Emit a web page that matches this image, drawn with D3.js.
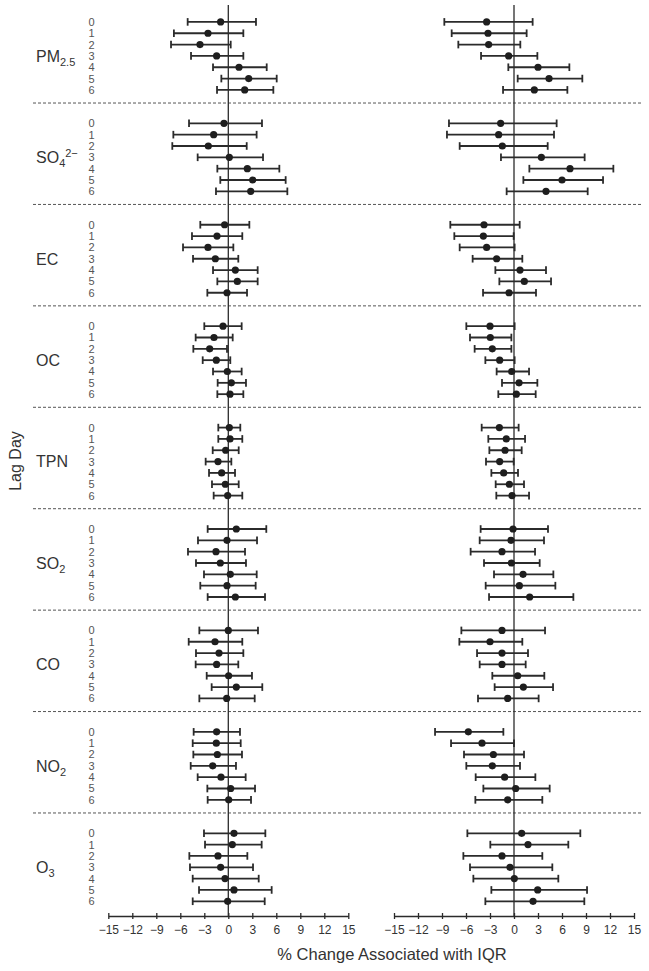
<!DOCTYPE html>
<html><head><meta charset="utf-8">
<script src="https://cdn.jsdelivr.net/npm/d3@7"></script>
<style>body{margin:0;background:#fff}svg{display:block}</style>
</head><body><svg id="c" width="649" height="971"></svg>
<script>
const pollutants = ["PM2.5","SO4","EC","OC","TPN","SO2","CO","NO2","O3"];
const lagDays = [0,1,2,3,4,5,6];
const xTicks = [-15,-12,-9,-6,-3,0,3,6,9,12,15];
const axisTitle = "% Change Associated with IQR";
const yTitle = "Lag Day";

// Left panel: estimate, lower and upper limits (rows = pollutants, columns = lag 0..6)
const leftEst = [
  [-0.96,-2.54,-3.54,-1.46,1.34,2.55,2.05],
  [-0.54,-1.83,-2.5,0.13,2.38,3.05,2.8],
  [-0.46,-1.41,-2.54,-1.62,0.88,1.13,-0.16],
  [-0.66,-1.79,-2.33,-1.5,-0.12,0.38,0.21],
  [0.13,0.21,-0.33,-1.29,-0.83,-0.37,-0.08],
  [1.0,-0.16,-1.54,-1.0,0.25,-0.16,0.88],
  [0.0,-1.66,-1.16,-1.46,0.04,1.0,-0.2],
  [-1.46,-1.5,-1.37,-1.95,-0.91,0.3,0.05],
  [0.71,0.5,-1.29,-0.96,-0.41,0.71,-0.08]
];
const leftLo = [
  [-5.08,-6.8,-7.16,-4.66,-1.91,-0.87,-1.41],
  [-4.91,-6.87,-7.0,-3.83,-1.37,-1.0,-1.54],
  [-3.5,-4.54,-5.66,-4.41,-1.91,-1.37,-2.62],
  [-3.0,-4.08,-4.37,-3.2,-1.91,-1.33,-1.37],
  [-1.25,-1.25,-1.95,-2.83,-2.41,-2.04,-1.83],
  [-2.58,-3.79,-5.04,-4.04,-3.04,-3.5,-2.58],
  [-3.62,-4.95,-4.04,-4.08,-2.7,-2.08,-3.62],
  [-4.33,-4.45,-4.37,-4.7,-3.83,-2.62,-2.58],
  [-3.04,-2.91,-4.87,-4.79,-4.45,-3.66,-4.45]
];
const leftHi = [
  [3.46,1.88,0.3,1.88,4.8,6.05,5.63],
  [4.21,3.54,2.3,4.34,6.38,7.17,7.38],
  [2.63,1.75,0.63,1.25,3.67,3.67,2.34],
  [1.67,0.55,-0.16,0.25,1.67,2.21,1.88],
  [1.5,1.75,1.3,0.38,0.84,1.3,1.75],
  [4.75,3.59,2.09,2.21,3.55,3.42,4.59],
  [3.71,1.75,1.88,1.25,2.96,4.25,3.3],
  [1.46,1.55,1.71,0.96,2.17,3.34,2.84],
  [4.63,4.17,2.38,3.09,3.8,5.42,4.55]
];
// Right panel
const rightEst = [
  [-3.42,-3.25,-3.17,-0.67,3.0,4.38,2.54],
  [-1.67,-1.92,-1.46,3.42,7.0,6.0,4.0],
  [-3.75,-3.83,-3.42,-2.17,0.75,1.29,-0.62],
  [-3.0,-2.96,-2.71,-1.79,-0.29,0.63,0.29],
  [-1.83,-0.96,-1.12,-1.79,-1.29,-0.58,-0.25],
  [-0.12,-0.37,-1.5,-0.33,1.13,0.67,1.96],
  [-1.5,-3.0,-1.5,-1.5,0.46,1.17,-0.79],
  [-5.71,-4.0,-2.58,-2.71,-1.17,0.21,-0.79],
  [0.96,1.75,-1.5,-0.5,0.04,2.96,2.38]
];
const rightLo = [
  [-8.71,-7.79,-6.96,-4.12,-0.71,0.46,-1.37],
  [-8.13,-8.38,-6.79,-1.63,1.92,1.17,-0.92],
  [-7.96,-7.46,-6.79,-5.17,-2.33,-1.83,-3.87],
  [-5.96,-5.5,-4.92,-3.58,-2.17,-1.5,-1.96],
  [-4.04,-3.21,-3.08,-3.5,-2.83,-2.29,-2.21],
  [-4.17,-4.29,-5.42,-3.75,-2.5,-3.54,-3.12],
  [-6.58,-6.83,-4.62,-4.29,-2.71,-2.42,-4.5],
  [-9.87,-7.87,-6.25,-5.96,-4.79,-3.83,-4.83],
  [-5.83,-2.96,-6.33,-5.5,-5.08,-2.83,-3.58]
];
const rightHi = [
  [2.33,1.58,0.79,2.92,6.92,8.54,6.67],
  [5.33,5.0,4.21,8.83,12.42,11.13,9.21],
  [0.71,-0.04,0.08,1.04,4.0,4.63,2.75],
  [0.08,-0.33,-0.33,0.08,1.88,2.92,2.71],
  [0.58,1.38,0.96,-0.04,0.5,1.25,1.88],
  [4.25,3.75,2.63,3.21,4.92,5.17,7.42],
  [3.88,1.04,1.75,1.46,3.79,4.88,3.08],
  [-1.33,0.0,1.25,0.75,2.67,4.46,3.54],
  [8.29,6.79,3.54,4.79,5.54,9.13,8.79]
];

// label parts (text, kind)
const labelParts = {
  "PM2.5": [["PM",""],["2.5","sub"]],
  "SO4": [["SO",""],["4","sub"],["2\u2212","sup"]],
  "EC": [["EC",""]],
  "OC": [["OC",""]],
  "TPN": [["TPN",""]],
  "SO2": [["SO",""],["2","sub"]],
  "CO": [["CO",""]],
  "NO2": [["NO",""],["2","sub"]],
  "O3": [["O",""],["3","sub"]]
};

const svg = d3.select("#c");
const font = "'Liberation Sans', Arial, Helvetica, sans-serif";
const ink = "#2b2b2b";

const yGroup = d3.scaleBand().domain(pollutants).range([1.6, 914.4]);
const yLag = d3.scaleLinear().domain([0, 6]).range([20.3, 88.3]);
const xLeft = d3.scaleLinear().domain([-15, 15]).range([108.3, 348.3]);
const xRight = d3.scaleLinear().domain([-15, 15]).range([394, 634]);
const axisY = 916;

// dashed separators
svg.append("g").selectAll("line").data(pollutants.slice(1)).join("line")
  .attr("x1", 33).attr("x2", 643)
  .attr("y1", d => yGroup(d)).attr("y2", d => yGroup(d))
  .attr("stroke", "#555").attr("stroke-width", 1).attr("stroke-dasharray", "3,2");

// zero lines
[xLeft, xRight].forEach(x => {
  svg.append("line").attr("x1", x(0)).attr("x2", x(0)).attr("y1", 5).attr("y2", axisY)
    .attr("stroke", ink).attr("stroke-width", 1.3);
});

// labels
pollutants.forEach((p, i) => {
  const gy = yGroup(p);
  const cy = gy + (yLag(0) + yLag(6)) / 2;
  const t = svg.append("text").attr("x", 36).attr("y", cy).attr("dy", "0.36em")
    .attr("font-family", font).attr("font-size", 16).attr("fill", "#333");
  labelParts[p].forEach(([txt, kind]) => {
    const ts = t.append("tspan").text(txt);
    if (kind === "sub") {
      ts.attr("font-size", 11).attr("dy", 4);
    } else if (kind === "sup") {
      ts.attr("font-size", 11).attr("dy", -10);
    }
  });
  svg.append("g").selectAll("text").data(lagDays).join("text")
    .attr("x", 91.5).attr("y", d => gy + yLag(d)).attr("dy", "0.36em")
    .attr("text-anchor", "middle").attr("font-family", font).attr("font-size", 11)
    .attr("fill", "#555").text(d => d);
});

function drawPanel(x, est, lo, hi) {
  const g = svg.append("g");
  pollutants.forEach((p, i) => {
    const gy = yGroup(p);
    lagDays.forEach((l, j) => {
      const y = gy + yLag(l);
      g.append("line").attr("x1", x(lo[i][j])).attr("x2", x(hi[i][j])).attr("y1", y).attr("y2", y)
        .attr("stroke", ink).attr("stroke-width", 1.8);
      [lo[i][j], hi[i][j]].forEach(v => {
        g.append("line").attr("x1", x(v)).attr("x2", x(v)).attr("y1", y - 3.8).attr("y2", y + 3.8)
          .attr("stroke", ink).attr("stroke-width", 1.8);
      });
      g.append("circle").attr("cx", x(est[i][j])).attr("cy", y).attr("r", 3.6).attr("fill", "#1e1e1e");
    });
  });
  const ax = svg.append("g").attr("transform", `translate(0,${axisY})`)
    .call(d3.axisBottom(x).tickValues(xTicks).tickSizeInner(3).tickSizeOuter(0).tickPadding(6));
  ax.select(".domain").attr("stroke", ink).attr("stroke-width", 1.3);
  ax.selectAll(".tick line").attr("y1", -3).attr("y2", 3).attr("stroke", ink).attr("stroke-width", 1.3);
  ax.selectAll(".tick text").attr("font-family", font).attr("font-size", 12).attr("fill", "#333");
}
drawPanel(xLeft, leftEst, leftLo, leftHi);
drawPanel(xRight, rightEst, rightLo, rightHi);

svg.append("text").attr("x", 392).attr("y", 960).attr("text-anchor", "middle")
  .attr("font-family", font).attr("font-size", 16.5).attr("fill", "#333").text(axisTitle);
svg.append("text").attr("transform", "translate(21,461) rotate(-90)").attr("text-anchor", "middle")
  .attr("font-family", font).attr("font-size", 16).attr("fill", "#333").text(yTitle);
</script>
</body></html>
